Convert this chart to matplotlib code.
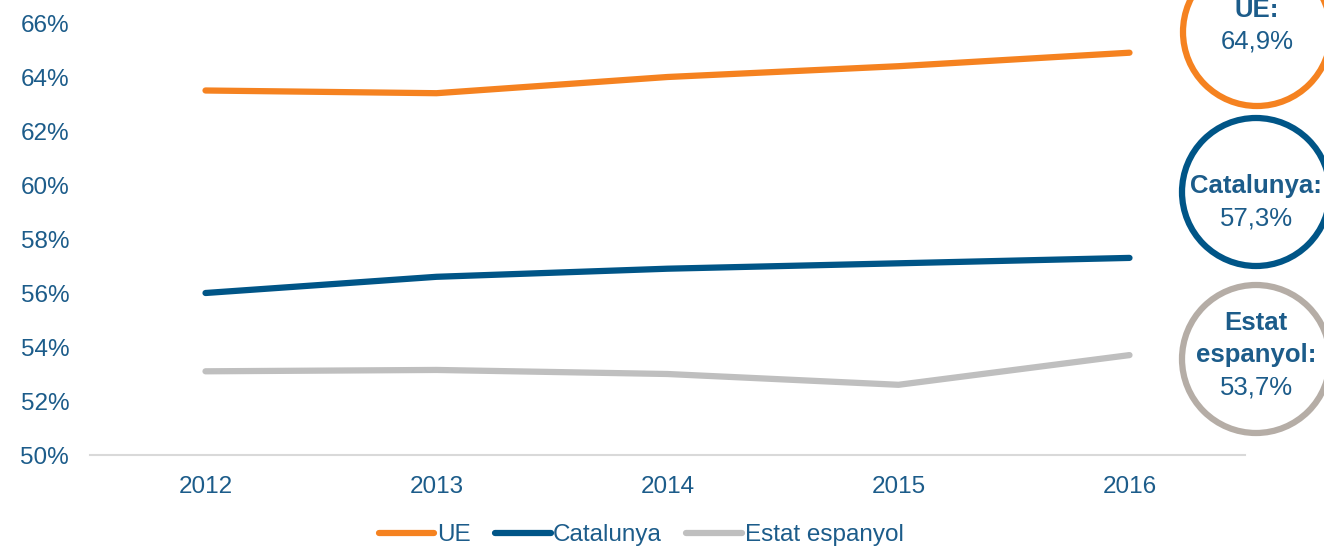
import matplotlib.pyplot as plt
from matplotlib.patches import Ellipse
from matplotlib.ticker import FuncFormatter

years = ["2012", "2013", "2014", "2015", "2016"]
ue = [63.5, 63.4, 64.0, 64.4, 64.9]
catalunya = [56.0, 56.6, 56.9, 57.1, 57.3]
estat = [53.1, 53.15, 53.0, 52.6, 53.7]
series_names = ["UE", "Catalunya", "Estat espanyol"]
circle_titles = ["UE", "Catalunya", "Estat\nespanyol"]

orange = "#F58220"
blue = "#005587"
grey = "#BFBFBF"
circle_grey = "#B5ADA6"
txt = "#1C5C8A"

plt.rcParams['font.family'] = ['Liberation Sans', 'DejaVu Sans']

W, H = 1324, 547
fig = plt.figure(figsize=(W / 100, H / 100), dpi=100)
ax = fig.add_axes([90 / W, 1 - 455 / H, (1245 - 90) / W, (455 - 23) / H])

x = range(len(years))
for vals, col, name in zip([ue, catalunya, estat], [orange, blue, grey], series_names):
    ax.plot(x, vals, color=col, lw=4.5, solid_capstyle="round", label=name)

ax.set_xlim(-0.5, len(years) - 0.5)
ax.set_ylim(50, 66)
ax.set_yticks(range(50, 67, 2))
ax.yaxis.set_major_formatter(FuncFormatter(lambda v, p: f"{v:.0f}%"))
ax.set_xticks(list(x))
ax.set_xticklabels(years)
ax.tick_params(length=0, labelsize=17.5, labelcolor=txt)
ax.tick_params(axis="y", pad=15)
ax.tick_params(axis="x", pad=15)
for s in ["top", "right", "left"]:
    ax.spines[s].set_visible(False)
ax.spines["bottom"].set_color("#D9D9D9")
ax.spines["bottom"].set_linewidth(1.5)

leg = fig.legend(loc="center", bbox_to_anchor=(641 / W, 1 - 535 / H), ncol=3, frameon=False,
                 fontsize=17.5, handlelength=2.3, handletextpad=0.1, columnspacing=1.0,
                 labelcolor=txt)

# circles with last-year values
finals = [ue[-1], catalunya[-1], estat[-1]]
centers = [(1257, 32), (1256, 192), (1256, 359)]
text_top = [10, 186, 323]
ccols = [orange, blue, circle_grey]
r = 74
step = 32
for title, val, (cx, cy), ty, cc in zip(circle_titles, finals, centers, text_top, ccols):
    fx, fy = cx / W, 1 - cy / H
    fig.add_artist(Ellipse((fx, fy), 2 * r / W, 2 * r / H, transform=fig.transFigure,
                           fill=False, edgecolor=cc, lw=4.5))
    lines = title.split("\n")
    for i, ln in enumerate(lines):
        fig.text(fx, 1 - (ty + i * step) / H, ln + (":" if i == len(lines) - 1 else ""),
                 ha="center", va="center", fontsize=18.5, fontweight="bold", color=txt)
    fig.text(fx, 1 - (ty + len(lines) * step) / H, f"{val:.1f}%".replace(".", ","),
             ha="center", va="center", fontsize=18.5, color=txt)

fig.savefig("out.png", dpi=100)
